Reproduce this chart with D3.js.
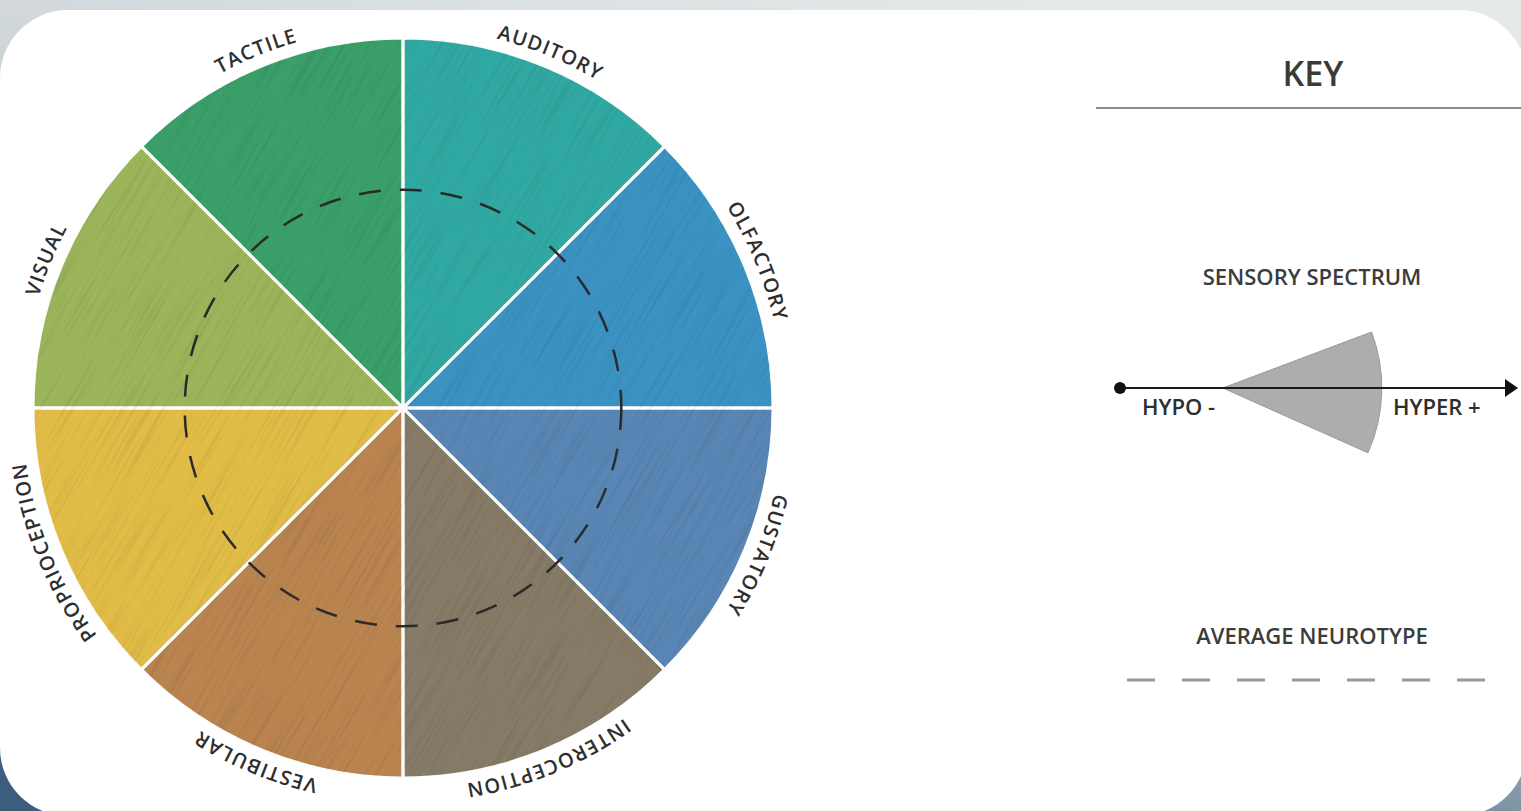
<!DOCTYPE html>
<html lang="en">
<head>
  <meta charset="UTF-8">
  <title>Sensory wheel</title>
  <style>
    html, body { margin: 0; padding: 0; overflow: hidden; }
    text { font-family: "Open Sans", "Noto Sans", sans-serif; fill: #2e2e2e; font-weight: 600; }
  </style>
</head>
<body>
  <script src="https://d3js.org/d3.v7.min.js"></script>
  <script>
    const width = 1521;
    const height = 811;

    // data
    const senses = ['AUDITORY', 'OLFACTORY', 'GUSTATORY', 'INTEROCEPTION',
                    'VESTIBULAR', 'PROPRIOCEPTION', 'VISUAL', 'TACTILE'];
    const senseColors = ['#31a9a3', '#3b93c3', '#5986b4', '#857b67',
                         '#b9844f', '#e1bd47', '#9cb55b', '#3b9f69'];
    const senseValues = [1, 1, 1, 1, 1, 1, 1, 1];
    const averageLevel = [0.59];
    const keyTitle = ['KEY'];
    const keyLabels = ['SENSORY SPECTRUM', 'AVERAGE NEUROTYPE'];
    const spectrumEnds = ['HYPO -', 'HYPER +'];

    const cx = 403, cy = 408, outerR = 370;
    const radius = d3.scaleLinear().domain([0, 1]).range([0, outerR]);

    const svg = d3.select('body')
                  .append('svg')
                  .attr('width', width)
                  .attr('height', height);

    const defs = svg.append('defs');
    const bg = defs.append('linearGradient')
                   .attr('id', 'bg')
                   .attr('x1', 0.7).attr('y1', 0)
                   .attr('x2', 0.3).attr('y2', 1);
    bg.append('stop').attr('offset', 0).attr('stop-color', '#e6e9ea');
    bg.append('stop').attr('offset', 0.55).attr('stop-color', '#b9c3c9');
    bg.append('stop').attr('offset', 1).attr('stop-color', '#3c5e7c');

    const grain = defs.append('filter').attr('id', 'grain')
                      .attr('x', 0).attr('y', 0).attr('width', 1).attr('height', 1);
    grain.append('feTurbulence')
         .attr('type', 'fractalNoise')
         .attr('baseFrequency', '0.01 0.4')
         .attr('numOctaves', 2)
         .attr('seed', 4);
    grain.append('feColorMatrix')
         .attr('type', 'matrix')
         .attr('values', '0 0 0 0 0  0 0 0 0 0  0 0 0 0 0  1.6 0 0 0 -0.75');

    defs.append('clipPath').attr('id', 'wheelClip')
        .append('circle').attr('cx', cx).attr('cy', cy).attr('r', outerR);

    // background + card
    svg.append('rect')
       .attr('width', width).attr('height', height)
       .attr('fill', 'url(#bg)');
    svg.append('rect')
       .attr('x', 0).attr('y', 10)
       .attr('width', 1527).attr('height', 806)
       .attr('rx', 68)
       .attr('fill', '#fff');

    // wheel
    const pie = d3.pie().sort(null)(senseValues);
    const arc = d3.arc().innerRadius(0).outerRadius(radius(1));
    const wheel = svg.append('g').attr('transform', 'translate(' + cx + ',' + cy + ')');

    wheel.selectAll('path.sense')
         .data(pie)
         .enter()
         .append('path')
         .attr('class', 'sense')
         .attr('d', arc)
         .attr('fill', (d, i) => senseColors[i]);

    // brush texture
    svg.append('g')
       .attr('clip-path', 'url(#wheelClip)')
       .append('rect')
       .attr('x', cx - 600).attr('y', cy - 600)
       .attr('width', 1200).attr('height', 1200)
       .attr('transform', 'rotate(-60,' + cx + ',' + cy + ')')
       .attr('filter', 'url(#grain)')
       .attr('opacity', 0.12);

    wheel.selectAll('path.sep')
         .data(pie)
         .enter()
         .append('path')
         .attr('class', 'sep')
         .attr('d', arc)
         .attr('fill', 'none')
         .attr('stroke', '#fff')
         .attr('stroke-width', 3);

    // average neurotype ring
    wheel.selectAll('circle.avg')
         .data(averageLevel)
         .enter()
         .append('circle')
         .attr('r', d => radius(d))
         .attr('fill', 'none')
         .attr('stroke', '#2b2b2b')
         .attr('stroke-width', 2.5)
         .attr('stroke-dasharray', '22 19');

    // curved labels
    const labelR = 381;
    defs.append('path')
        .attr('id', 'labelPath')
        .attr('d', 'M0,' + (-labelR) + ' A' + labelR + ',' + labelR + ' 0 1 1 0,' + labelR +
                   ' A' + labelR + ',' + labelR + ' 0 1 1 0,' + (-labelR));
    const circ = 2 * Math.PI * labelR;
    wheel.selectAll('text.sense')
         .data(pie)
         .enter()
         .append('text')
         .attr('class', 'sense')
         .style('font-size', '20px')
         .style('letter-spacing', '1.2px')
         .append('textPath')
         .attr('href', '#labelPath')
         .attr('startOffset', d => ((d.startAngle + d.endAngle) / 2) / (2 * Math.PI) * circ)
         .attr('text-anchor', 'middle')
         .text((d, i) => senses[i]);

    // key
    const key = svg.append('g');
    key.append('text')
       .attr('x', 1313).attr('y', 86)
       .attr('text-anchor', 'middle')
       .style('font-size', '34px')
       .style('fill', '#3a3a3a')
       .text(keyTitle[0]);
    key.append('line')
       .attr('x1', 1096).attr('x2', 1521)
       .attr('y1', 108).attr('y2', 108)
       .attr('stroke', '#8a8a8a').attr('stroke-width', 2);

    key.selectAll('text.klabel')
       .data(keyLabels)
       .enter()
       .append('text')
       .attr('class', 'klabel')
       .attr('x', 1312)
       .attr('y', (d, i) => [285, 644][i])
       .attr('text-anchor', 'middle')
       .style('font-size', '22px')
       .style('fill', '#3c3c3c')
       .text(d => d);

    // spectrum
    const specY = 388;
    const spectrum = d3.scaleLinear().domain([0, 1]).range([1120, 1505]);
    const wedgeArc = d3.arc().innerRadius(0).outerRadius(159)
                       .startAngle(Math.PI / 2 - 0.36).endAngle(Math.PI / 2 + 0.42);
    key.append('path')
       .attr('transform', 'translate(' + spectrum(0.267) + ',' + specY + ')')
       .attr('d', wedgeArc)
       .attr('fill', '#adadad')
       .attr('stroke', '#999')
       .attr('stroke-width', 1);
    key.append('line')
       .attr('x1', spectrum(0)).attr('x2', spectrum(1))
       .attr('y1', specY).attr('y2', specY)
       .attr('stroke', '#1a1a1a').attr('stroke-width', 2);
    key.append('circle')
       .attr('cx', spectrum(0)).attr('cy', specY).attr('r', 6)
       .attr('fill', '#111');
    key.append('path')
       .attr('d', 'M' + spectrum(1) + ',' + (specY - 9) + ' L' + (spectrum(1) + 13) + ',' + specY +
                  ' L' + spectrum(1) + ',' + (specY + 9) + 'Z')
       .attr('fill', '#111');
    key.selectAll('text.end')
       .data(spectrumEnds)
       .enter()
       .append('text')
       .attr('class', 'end')
       .attr('x', (d, i) => [1142, 1393][i])
       .attr('y', 415)
       .style('font-size', '22px')
       .text(d => d);

    // average neurotype sample
    key.append('line')
       .attr('x1', 1127).attr('x2', 1490)
       .attr('y1', 680).attr('y2', 680)
       .attr('stroke', '#999').attr('stroke-width', 3)
       .attr('stroke-dasharray', '28 27');
  </script>
</body>
</html>
